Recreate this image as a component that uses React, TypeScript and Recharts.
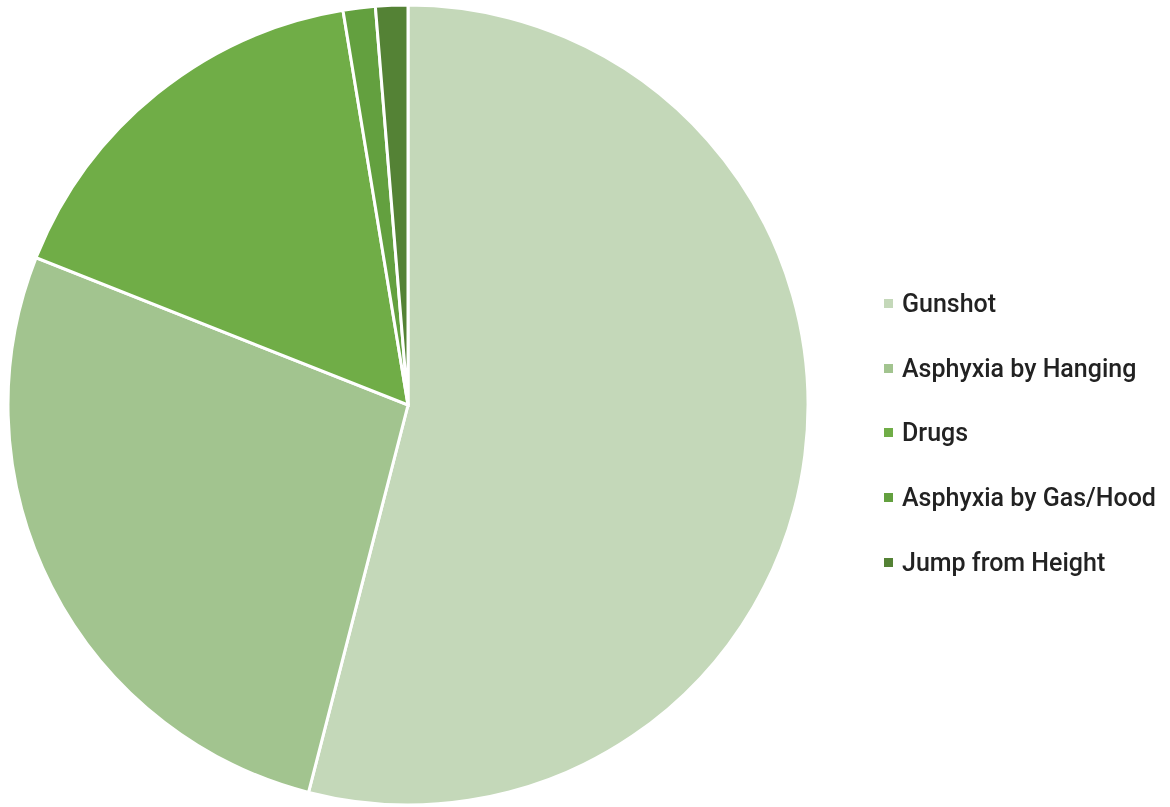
import { PieChart, Pie, Cell, Legend } from 'recharts'

const causes = ['Gunshot', 'Asphyxia by Hanging', 'Drugs', 'Asphyxia by Gas/Hood', 'Jump from Height']
const shares = [54.0, 27.0, 16.4, 1.3, 1.3]
const colors = ['#c4d8b9', '#a2c48f', '#70ad47', '#63a03f', '#548235']

const chartData = causes.map((name, i) => ({ name, value: shares[i] }))

function LegendList() {
  return (
    <ul style={{ listStyle: 'none', margin: 0, padding: 0 }}>
      {causes.map((c, i) => (
        <li
          key={c}
          style={{ display: 'flex', alignItems: 'center', height: 64.8, fontFamily: 'Roboto, sans-serif', fontWeight: 500, fontSize: 25, color: '#222', whiteSpace: 'nowrap' }}
        >
          <span style={{ width: 9, height: 9, background: colors[i], marginRight: 9, display: 'inline-block' }} />
          {c}
        </li>
      ))}
    </ul>
  )
}

export default function App() {
  return (
    <div style={{ position: 'fixed', left: 0, top: 0, width: 1170, height: 807, background: '#fff' }}>
      <PieChart width={1170} height={807} margin={{ top: 0, right: 0, bottom: 0, left: 0 }}>
        <Pie
          data={chartData}
          dataKey="value"
          nameKey="name"
          cx={408}
          cy={405}
          outerRadius={400}
          startAngle={90}
          endAngle={-270}
          stroke="#fff"
          strokeWidth={3}
          isAnimationActive={false}
        >
          {chartData.map((d, i) => (
            <Cell key={d.name} fill={colors[i]} />
          ))}
        </Pie>
        <Legend
          content={() => <LegendList />}
          layout="vertical"
          wrapperStyle={{ position: 'absolute', left: 884, top: 271, width: 290 }}
        />
      </PieChart>
    </div>
  )
}
